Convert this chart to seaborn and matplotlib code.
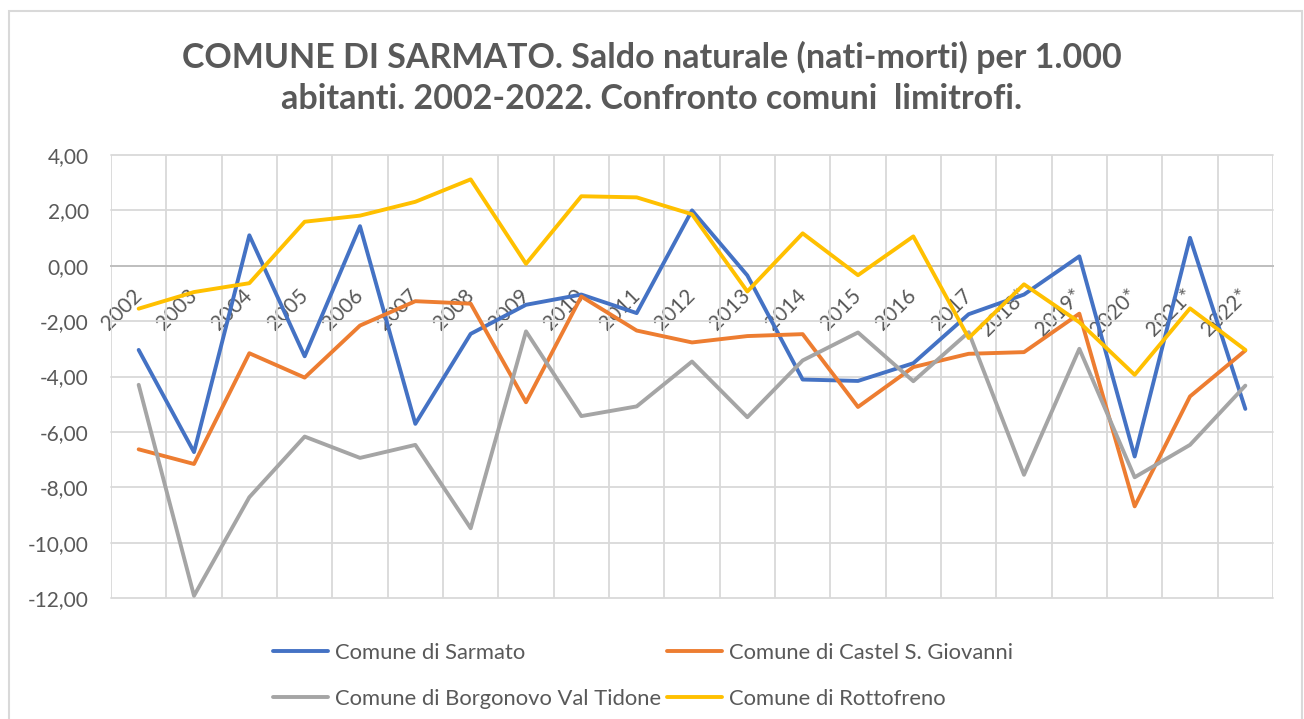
import numpy as np
import pandas as pd
import seaborn as sns
import matplotlib.pyplot as plt
from matplotlib.ticker import FixedLocator, FuncFormatter
from matplotlib.patches import Rectangle

# --- dati ---
anni = ['2002', '2003', '2004', '2005', '2006', '2007', '2008', '2009', '2010',
        '2011', '2012', '2013', '2014', '2015', '2016', '2017', '2018*', '2019*',
        '2020*', '2021*', '2022*']
sarmato = [-3.04, -6.73, 1.10, -3.27, 1.43, -5.71, -2.46, -1.41, -1.04, -1.71, 2.00,
           -0.35, -4.11, -4.16, -3.52, -1.75, -1.04, 0.34, -6.89, 1.01, -5.17]
castel = [-6.63, -7.16, -3.16, -4.04, -2.16, -1.28, -1.37, -4.93, -1.11, -2.34, -2.77,
          -2.54, -2.47, -5.10, -3.66, -3.18, -3.12, -1.73, -8.69, -4.72, -3.06]
borgonovo = [-4.30, -11.92, -8.36, -6.17, -6.94, -6.47, -9.48, -2.37, -5.43, -5.08, -3.46,
             -5.47, -3.42, -2.41, -4.17, -2.40, -7.55, -3.00, -7.64, -6.47, -4.33]
rottofreno = [-1.55, -0.95, -0.63, 1.59, 1.81, 2.31, 3.12, 0.07, 2.51, 2.47, 1.86,
              -0.93, 1.17, -0.34, 1.06, -2.61, -0.67, -2.04, -3.94, -1.54, -3.04]

comuni = ['Comune di Sarmato', 'Comune di Castel S. Giovanni',
          'Comune di Borgonovo Val Tidone', 'Comune di Rottofreno']
colori = ['#4472C4', '#ED7D31', '#A5A5A5', '#FFC000']

titolo = ("COMUNE DI SARMATO. Saldo naturale (nati-morti) per 1.000\n"
          "abitanti. 2002-2022. Confronto comuni  limitrofi.")

# --- tabella lunga per seaborn ---
df = pd.DataFrame({'pos': np.arange(len(anni)), 'anno': anni,
                   comuni[0]: sarmato, comuni[1]: castel,
                   comuni[2]: borgonovo, comuni[3]: rottofreno})
df_long = df.melt(id_vars=['pos', 'anno'], var_name='comune', value_name='saldo')

sns.set_style('white')
plt.rcParams['font.family'] = ['Lato', 'DejaVu Sans']
testo = '#595959'

fig = plt.figure(figsize=(13.04, 7.19), dpi=100)
ax = fig.add_axes([111 / 1304, 1 - 598 / 719, (1273 - 111) / 1304, (598 - 155) / 719])

sns.lineplot(data=df_long, x='pos', y='saldo', hue='comune', hue_order=comuni,
             palette=dict(zip(comuni, colori)), linewidth=2.8, ax=ax, zorder=3)

ax.set_xlim(-0.5, len(anni) - 0.5)
ax.set_ylim(-12, 4)
ax.set_yticks(np.arange(-12, 4.1, 2))
ax.yaxis.set_major_formatter(FuncFormatter(lambda v, p: f"{v:.2f}".replace('.', ',')))
ax.xaxis.set_minor_locator(FixedLocator(np.arange(-0.5, len(anni), 1)))
ax.set_xlabel('')
ax.set_ylabel('')

ax.grid(axis='y', which='major', color='#d9d9d9', lw=1.3)
ax.grid(axis='x', which='minor', color='#d9d9d9', lw=1.3)
ax.grid(axis='x', which='major', visible=False)
for gl in ax.get_ygridlines():
    gl.set_clip_on(False)

for s in ['left', 'right', 'top']:
    ax.spines[s].set_visible(False)
ax.spines['bottom'].set_position(('data', 0))
ax.spines['bottom'].set_color('#bfbfbf')
ax.spines['bottom'].set_linewidth(1.4)
ax.spines['bottom'].set_zorder(2.5)

ax.tick_params(axis='x', which='both', length=0, pad=19, labelsize=15, labelcolor=testo)
ax.tick_params(axis='y', length=0, pad=16, labelsize=15, labelcolor=testo)

# etichette anni ruotate a 45 gradi
ax.set_xticks(np.arange(len(anni)))
ax.set_xticklabels(anni)
for lab in ax.get_xticklabels():
    lab.set_rotation(45)
    lab.set_ha('right')
    lab.set_va('center')
    lab.set_rotation_mode('anchor')

# legenda sotto il grafico, su due righe
h, l = ax.get_legend_handles_labels()
ax.get_legend().remove()
ordine = [0, 2, 1, 3]
fig.legend([h[i] for i in ordine], [l[i] for i in ordine], ncol=2,
           loc='center', bbox_to_anchor=(0.493, 1 - 676 / 719), frameon=False,
           fontsize=15.8, labelcolor=testo, handlelength=2.5, handletextpad=0.3,
           columnspacing=0.3, labelspacing=1.2)

fig.suptitle(titolo, x=0.5, y=1 - 78 / 719, va='center', fontsize=24.5,
             fontweight='bold', color=testo, linespacing=1.35)

# cornice dell'area del grafico
fig.add_artist(Rectangle((9 / 1304, -0.02), (1302 - 9) / 1304, 1 - 10.7 / 719 + 0.02,
                         transform=fig.transFigure, fill=False,
                         edgecolor='#d9d9d9', lw=1.5))

fig.savefig('out.png', dpi=100)
